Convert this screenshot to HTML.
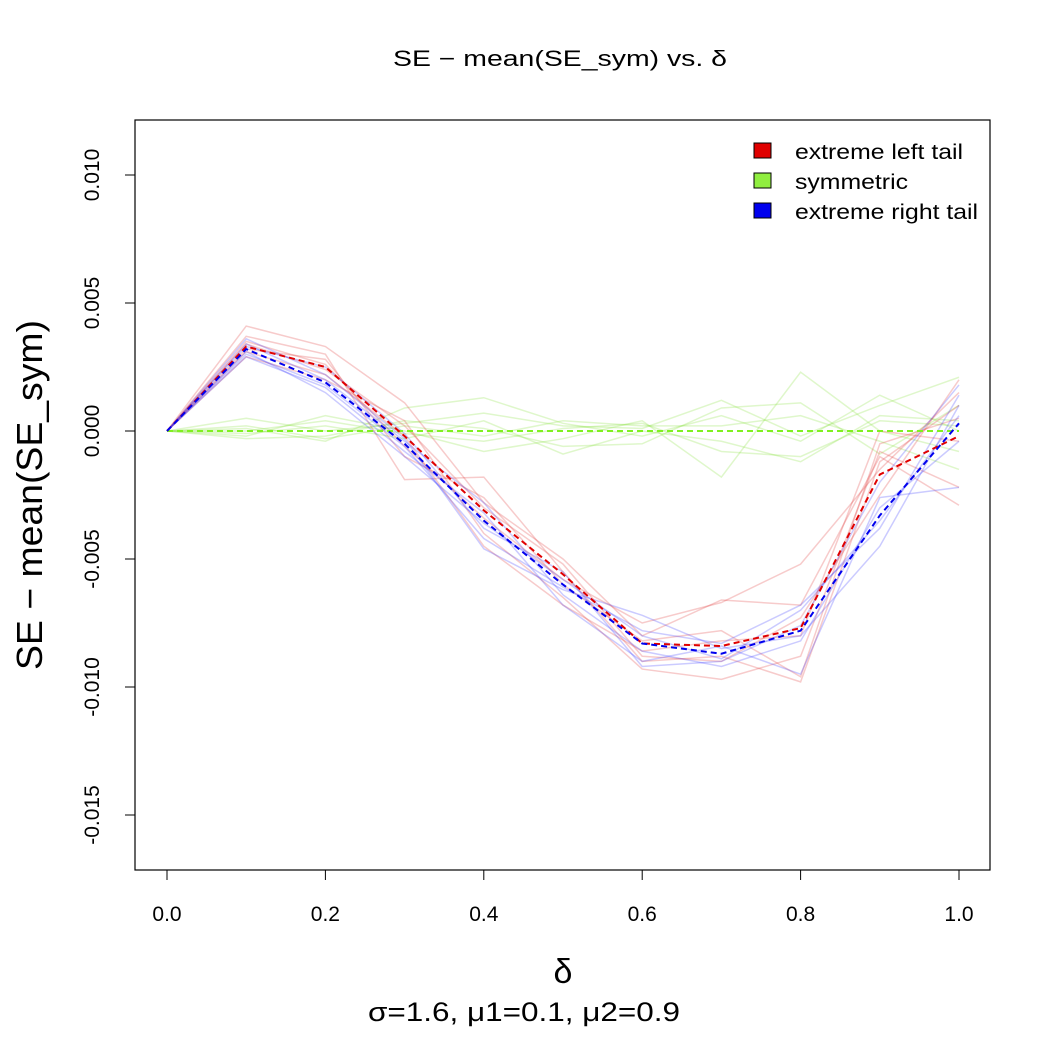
<!DOCTYPE html>
<html><head><meta charset="utf-8"><style>
body{margin:0;background:#fff}
svg text{font-family:"Liberation Sans",sans-serif;fill:#000}
</style></head><body>
<svg id="chart" width="1050" height="1050" xmlns="http://www.w3.org/2000/svg">
<text x="560" y="66" font-size="22" text-anchor="middle" textLength="334" lengthAdjust="spacingAndGlyphs">SE − mean(SE_sym) vs. δ</text>
<rect x="135" y="120" width="855" height="750" fill="none" stroke="#000" stroke-width="1.2"/>
<g id="xaxis"></g>
<g id="yaxis"></g>
<g id="series"></g>
<text transform="translate(42,495) rotate(-90)" font-size="36" text-anchor="middle" textLength="350" lengthAdjust="spacingAndGlyphs">SE − mean(SE_sym)</text>
<text x="563" y="983" font-size="34" text-anchor="middle">δ</text>
<text x="524" y="1021" font-size="27" text-anchor="middle" textLength="312" lengthAdjust="spacingAndGlyphs">σ=1.6, μ1=0.1, μ2=0.9</text>
<g>
<rect x="754" y="143" width="17" height="15" fill="#e00000" stroke="#000"/>
<text x="795" y="159" font-size="21" textLength="168" lengthAdjust="spacingAndGlyphs">extreme left tail</text>
<rect x="754" y="173" width="17" height="15" fill="#90ee40" stroke="#000"/>
<text x="795" y="189" font-size="21" textLength="113" lengthAdjust="spacingAndGlyphs">symmetric</text>
<rect x="754" y="203" width="17" height="15" fill="#0000ee" stroke="#000"/>
<text x="795" y="219" font-size="21" textLength="183" lengthAdjust="spacingAndGlyphs">extreme right tail</text>
</g>
</svg>
<script>
const deltas=[0,0.1,0.2,0.3,0.4,0.5,0.6,0.7,0.8,0.9,1.0];
const xTicks=[0,0.2,0.4,0.6,0.8,1.0];
const xTickLabels=["0.0","0.2","0.4","0.6","0.8","1.0"];
const yTicks=[0.010,0.005,0,-0.005,-0.010,-0.015];
const yTickLabels=["0.010","0.005","0.000","-0.005","-0.010","-0.015"];
const meanLeft=[0,0.0033,0.0025,-0.0002,-0.0031,-0.0056,-0.0083,-0.0084,-0.0077,-0.0017,-0.0002];
const meanSym=[0,0,0,0,0,0,0,0,0,0,0];
const meanRight=[0,0.0032,0.0019,-0.0005,-0.0035,-0.0060,-0.0083,-0.0087,-0.0078,-0.0033,0.0003];
const runsLeft=[
[0,0.0041,0.0033,0.0011,-0.0028,-0.0050,-0.0080,-0.0066,-0.0068,-0.0010,-0.0029],
[0,0.0037,0.0030,-0.0019,-0.0018,-0.0055,-0.0090,-0.0088,-0.0098,-0.0012,0.0010],
[0,0.0029,0.0020,0.0004,-0.0040,-0.0065,-0.0093,-0.0097,-0.0088,-0.0008,-0.0022],
[0,0.0035,0.0026,-0.0006,-0.0034,-0.0058,-0.0075,-0.0067,-0.0052,-0.0015,0.0015],
[0,0.0031,0.0022,-0.0002,-0.0045,-0.0068,-0.0086,-0.0082,-0.0080,0.0000,-0.0004],
[0,0.0034,0.0024,0.0002,-0.0030,-0.0052,-0.0088,-0.0090,-0.0073,-0.0025,0.0020],
[0,0.0032,0.0028,-0.0010,-0.0026,-0.0060,-0.0082,-0.0078,-0.0096,-0.0005,0.0005]];
const runsSym=[
[0,0.0005,0.0000,0.0003,0.0007,0.0002,0.0001,0.0012,-0.0002,0.0010,0.0021],
[0,-0.0002,0.0006,0.0000,-0.0008,-0.0003,0.0004,-0.0018,0.0023,0.0000,-0.0008],
[0,0.0001,-0.0004,0.0009,0.0013,0.0003,-0.0002,0.0006,-0.0004,0.0014,0.0000],
[0,-0.0001,0.0002,-0.0003,0.0004,-0.0009,0.0000,-0.0004,-0.0012,0.0006,0.0004],
[0,0.0002,-0.0003,0.0002,-0.0002,0.0004,0.0002,0.0002,0.0006,-0.0004,-0.0015],
[0,-0.0003,-0.0002,0.0004,0.0001,-0.0006,-0.0005,0.0009,0.0011,-0.0009,0.0010],
[0,0.0000,0.0004,-0.0001,-0.0004,0.0001,0.0003,-0.0008,-0.0010,0.0004,0.0002]];
const runsRight=[
[0,0.0036,0.0022,-0.0003,-0.0046,-0.0062,-0.0072,-0.0085,-0.0080,-0.0045,0.0010],
[0,0.0029,0.0017,-0.0008,-0.0032,-0.0068,-0.0090,-0.0084,-0.0095,-0.0026,-0.0022],
[0,0.0033,0.0025,-0.0001,-0.0038,-0.0055,-0.0092,-0.0090,-0.0076,-0.0020,0.0018],
[0,0.0031,0.0015,-0.0010,-0.0036,-0.0058,-0.0080,-0.0089,-0.0070,-0.0035,0.0006],
[0,0.0034,0.0020,-0.0004,-0.0028,-0.0064,-0.0086,-0.0092,-0.0082,-0.0030,-0.0004],
[0,0.0030,0.0018,-0.0006,-0.0042,-0.0061,-0.0078,-0.0083,-0.0068,-0.0038,0.0014]];
const X0=167,X1=959,Y0=431,PPU=25600;
function xs(v){return X0+(X1-X0)*v;}
function ys(v){return Y0-v*PPU;}
const NS="http://www.w3.org/2000/svg";
const xa=document.getElementById('xaxis'),ya=document.getElementById('yaxis'),sg=document.getElementById('series');
function mk(tag,attrs,parent){const e=document.createElementNS(NS,tag);for(const k in attrs)e.setAttribute(k,attrs[k]);parent.appendChild(e);return e;}
mk('line',{x1:xs(0),x2:xs(1),y1:870,y2:870,stroke:'#000'},xa);
xTicks.forEach((t,i)=>{
  const l=mk('line',{x1:xs(t),x2:xs(t),y1:870,y2:880,stroke:'#000'},xa);
  
  
  const tx=mk('text',{x:xs(t),y:921,'font-size':21,'text-anchor':'middle'},xa);
  tx.textContent=xTickLabels[i];
  
  
});
mk('line',{x1:135,x2:135,y1:ys(0.010),y2:ys(-0.015),stroke:'#000'},ya);
yTicks.forEach((t,i)=>{
  const l=mk('line',{x1:125,x2:135,y1:ys(t),y2:ys(t),stroke:'#000'},ya);
  
  
  const tx=mk('text',{transform:`translate(99,${ys(t)}) rotate(-90)`,'font-size':21,'text-anchor':'middle'},ya);
  tx.textContent=yTickLabels[i];
  
  
});
function pts(arr){return arr.map((v,i)=>xs(deltas[i])+','+ys(v)).join(' ');}
function run(arr,color,name){
  const p=mk('polyline',{points:pts(arr),fill:'none',stroke:color,'stroke-width':1.5,'stroke-opacity':0.25},sg);
  
  
}
runsSym.forEach(r=>run(r,'#7ee030','sym-run-line'));
runsLeft.forEach(r=>run(r,'#e03030','left-run-line'));
runsRight.forEach(r=>run(r,'#3030ff','right-run-line'));
function mean(arr,color,name){
  const p=mk('polyline',{points:pts(arr),fill:'none',stroke:color,'stroke-width':2,'stroke-dasharray':'6,4'},sg);
  
  
}
mean(meanSym,'#80f020','mean-sym-line');
mean(meanLeft,'#e00000','mean-left-line');
mean(meanRight,'#0000ee','mean-right-line');
</script>
</body></html>
